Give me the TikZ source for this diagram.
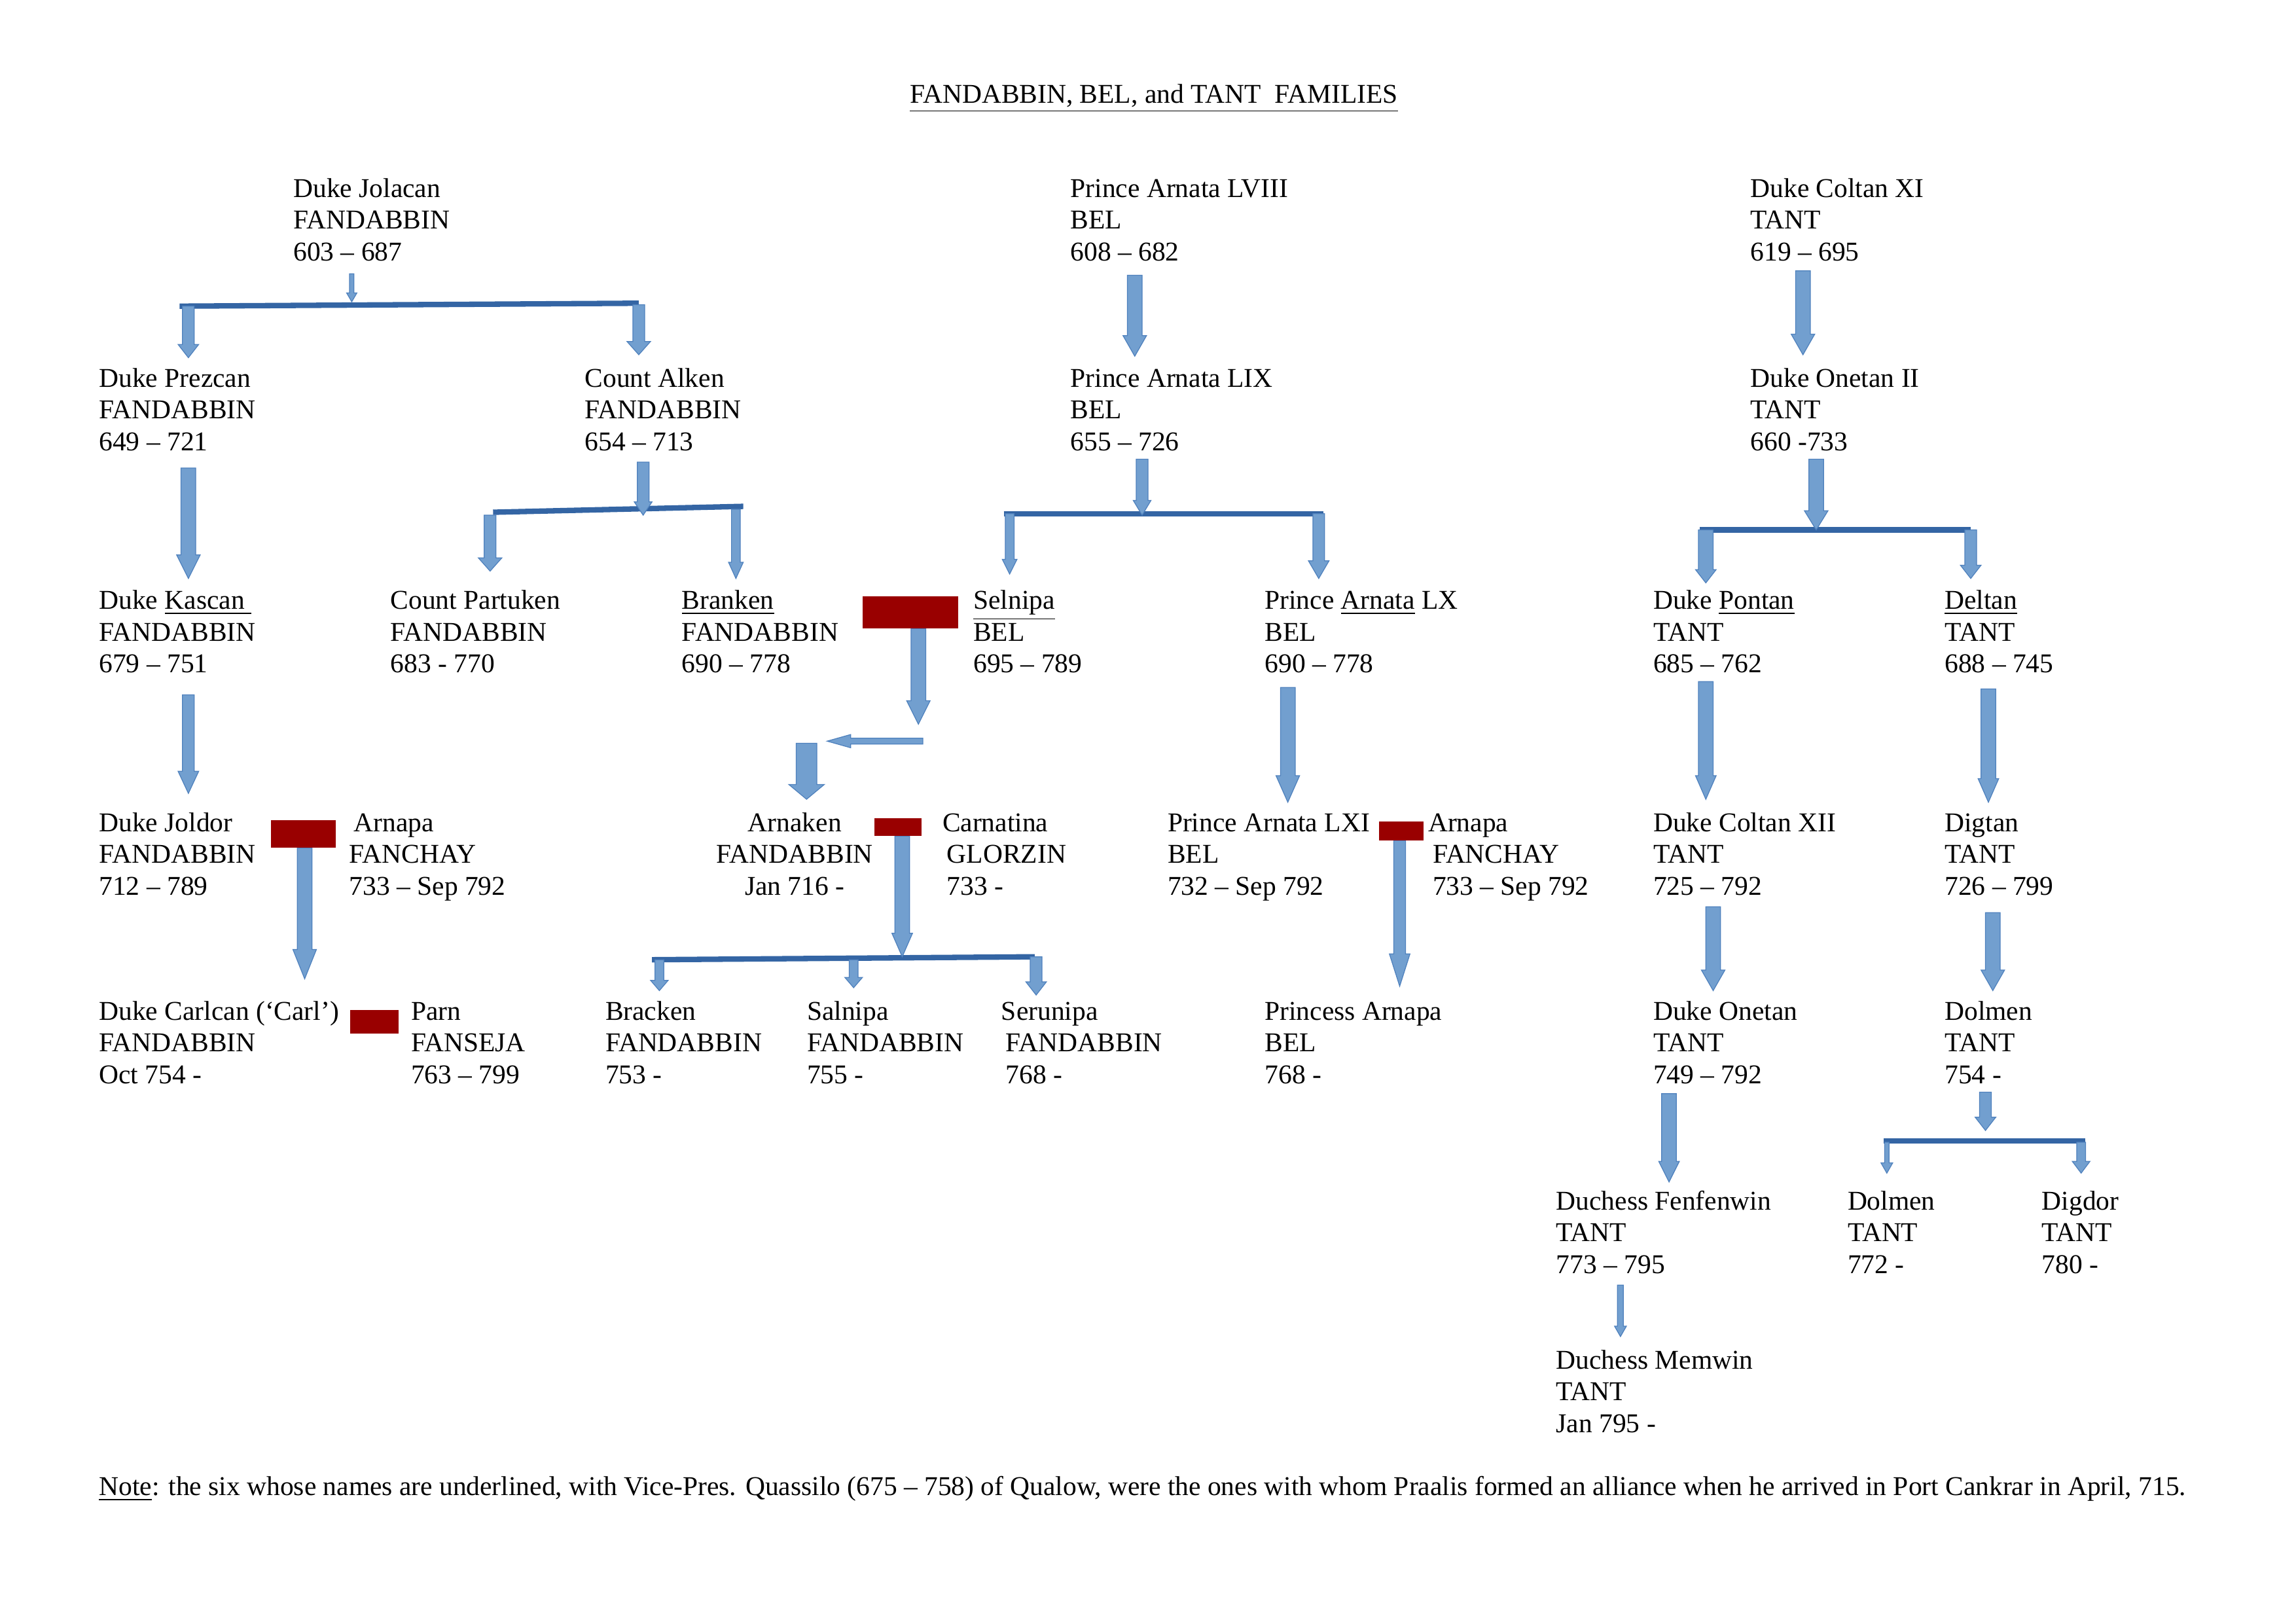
\documentclass[tikz,border=0pt]{standalone}
\usepackage{fontspec}
\setmainfont{Liberation Serif}
\begin{document}
\begin{tikzpicture}[x=0.019038cm,y=-0.019038cm,
  txt/.style={inner sep=0pt,font=\fontsize{10}{11.6}\selectfont},
  barline/.style={draw={rgb,255:red,52;green,101;blue,164},line width=2pt},
  redbox/.style={fill={rgb,255:red,153;green,0;blue,0},draw=none}]
\useasboundingbox (0,0) rectangle (1560,1103);
\definecolor{ab}{RGB}{114,159,207}
\definecolor{abd}{RGB}{79,129,189}
% block arrow: x, y1, y2, shaft half, head half, head length
\newcommand\barr[6]{\filldraw[fill=ab,draw=abd,line width=0.3pt]
  (#1-#4,#2) -- (#1+#4,#2) -- (#1+#4,#3-#6) -- (#1+#5,#3-#6) -- (#1,#3) -- (#1-#5,#3-#6) -- (#1-#4,#3-#6) -- cycle;}
\newcommand\pl[7][base west]{%
  \node[txt,anchor=#1] (#2) at (#3,#4+5) {#5};
  \node[txt,anchor=#1] (#2b) at (#3,#4+26.5) {#6};
  \node[txt,anchor=#1] (#2c) at (#3,#4+48) {#7};}
\node[txt,anchor=base] (title) at (784,70) {\underline{FANDABBIN, BEL, and TANT\ \ FAMILIES}};
% persons
\pl{jol}{199}{129}{Duke Jolacan}{FANDABBIN}{603 – 687}
\pl{a58}{727}{129}{Prince Arnata LVIII}{BEL}{608 – 682}
\pl{c11}{1189}{129}{Duke Coltan XI}{TANT}{619 – 695}
\pl{prez}{67}{258}{Duke Prezcan}{FANDABBIN}{649 – 721}
\pl{alk}{397}{258}{Count Alken}{FANDABBIN}{654 – 713}
\pl{a59}{727}{258}{Prince Arnata LIX}{BEL}{655 – 726}
\pl{on2}{1189}{258}{Duke Onetan II}{TANT}{660 -733}
\pl{kas}{67}{409}{Duke \underline{Kascan\ }}{FANDABBIN}{679 – 751}
\pl{part}{265}{409}{Count Partuken}{FANDABBIN}{683 - 770}
\pl{bran}{463}{409}{\underline{Branken}}{FANDABBIN}{690 – 778}
\pl{seln}{661}{409}{\underline{Selnipa}}{BEL}{695 – 789}
\pl{a60}{859}{409}{Prince \underline{Arnata} LX}{BEL}{690 – 778}
\pl{pont}{1123}{409}{Duke \underline{Pontan}}{TANT}{685 – 762}
\pl{delt}{1321}{409}{\underline{Deltan}}{TANT}{688 – 745}
\pl{jold}{67}{560}{Duke Joldor}{FANDABBIN}{712 – 789}
\pl{arn1}{237}{560}{\,Arnapa}{FANCHAY}{733 – Sep 792}
\pl[base]{arnk}{540}{560}{Arnaken}{FANDABBIN}{Jan 716 -}
\pl{carn}{640}{560}{Carnatina}{\,GLORZIN}{\,733 -}
\pl{a61}{793}{560}{Prince Arnata LXI}{BEL}{732 – Sep 792}
\pl{arn2}{970}{560}{Arnapa}{\,FANCHAY}{\,733 – Sep 792}
\pl{c12}{1123}{560}{Duke Coltan XII}{TANT}{725 – 792}
\pl{digt}{1321}{560}{Digtan}{TANT}{726 – 799}
\pl{carl}{67}{688}{Duke Carlcan (‘Carl’)}{FANDABBIN}{Oct 754 -}
\pl{parn}{279}{688}{Parn}{FANSEJA}{763 – 799}
\pl{brac}{411}{688}{Bracken}{FANDABBIN}{753 -}
\pl{saln}{548}{688}{Salnipa}{FANDABBIN}{755 -}
\pl{seru}{680}{688}{Serunipa}{\,FANDABBIN}{\,768 -}
\pl{parna}{859}{688}{Princess Arnapa}{BEL}{768 -}
\pl{onet}{1123}{688}{Duke Onetan}{TANT}{749 – 792}
\pl{dolm}{1321}{688}{Dolmen}{TANT}{754 -}
\pl{fenf}{1057}{817}{Duchess Fenfenwin}{TANT}{773 – 795}
\pl{dolm2}{1255}{817}{Dolmen}{TANT}{772 -}
\pl{digd}{1387}{817}{Digdor}{TANT}{780 -}
\node[txt,anchor=base west] (memw) at (1057,930) {Duchess Memwin};
\node[txt,anchor=base west] (memwb) at (1057,951.5) {TANT};
\node[txt,anchor=base west] (memwc) at (1057,973) {Jan 795 -};
\node[txt,anchor=base west] (note) at (67,1016) {\underline{Note}: the six whose names are underlined, with Vice-Pres. Quassilo (675 – 758) of Qualow, were the ones with whom Praalis formed an alliance when he arrived in Port Cankrar in April, 715.};
% bars
\draw[barline] (122,208) -- (434,206);
\draw[barline] (335,348) -- (505,344);
\draw[barline] (682,349) -- (899,349);
\draw[barline] (1155,360) -- (1339,360);
\draw[barline] (443,652) -- (703,650);
\draw[barline] (1280,775) -- (1417,775);
% arrows
\barr{239}{186}{205}{1.5}{3.5}{6}
\barr{128}{208}{243}{4}{7}{9}
\barr{434}{207}{241}{4}{8}{9}
\barr{771}{187}{242}{5}{8}{14}
\barr{1225}{184}{241}{5}{8}{14}
\barr{128}{318}{393}{5}{8}{16}
\barr{437}{314}{350}{4}{6}{9}
\barr{333}{350}{388}{4}{8}{9}
\barr{500}{346}{393}{3}{5}{11}
\barr{776}{312}{350}{4}{6}{10}
\barr{686}{349}{390}{3}{5}{10}
\barr{896}{349}{393}{4}{7}{12}
\barr{1234}{312}{360}{5}{8}{13}
\barr{1159}{360}{396}{5}{7}{9}
\barr{1339}{360}{393}{4}{7}{9}
\barr{128}{472}{539}{4}{7}{15}
\barr{624}{427}{492}{5}{8}{16}
\barr{548}{505}{543}{7}{12}{10}
\filldraw[fill=ab,draw=abd,line width=0.3pt] (627,501.5) -- (578,501.5) -- (578,499) -- (562,503.5) -- (578,508) -- (578,505.5) -- (627,505.5) -- cycle;
\barr{207}{576}{665}{5}{8}{20}
\barr{613}{568}{650}{5}{7}{16}
\barr{448}{652}{673}{3}{6}{7}
\barr{580}{652}{671}{3}{6}{7}
\barr{704}{650}{676}{4}{7}{9}
\barr{951}{571}{670}{4}{7}{22}
\barr{875}{467}{545}{5}{8}{18}
\barr{1159}{463}{543}{5}{7}{16}
\barr{1351}{468}{545}{5}{7}{16}
\barr{1164}{616}{673}{5}{8}{14}
\barr{1354}{620}{673}{5}{8}{14}
\barr{1134}{743}{803}{5}{7}{14}
\barr{1349}{742}{768}{4}{7}{9}
\barr{1282}{776}{797}{1.5}{4}{7}
\barr{1414}{776}{797}{3}{6}{8}
\barr{1101}{873}{908}{2}{4}{7}
% red boxes
\fill[redbox] (586,405) rectangle (651,427);
\fill[redbox] (184,557) rectangle (228,576);
\fill[redbox] (594,556) rectangle (626,568);
\fill[redbox] (937,558) rectangle (967,571);
\fill[redbox] (238,686) rectangle (271,702);
\end{tikzpicture}
\end{document}
